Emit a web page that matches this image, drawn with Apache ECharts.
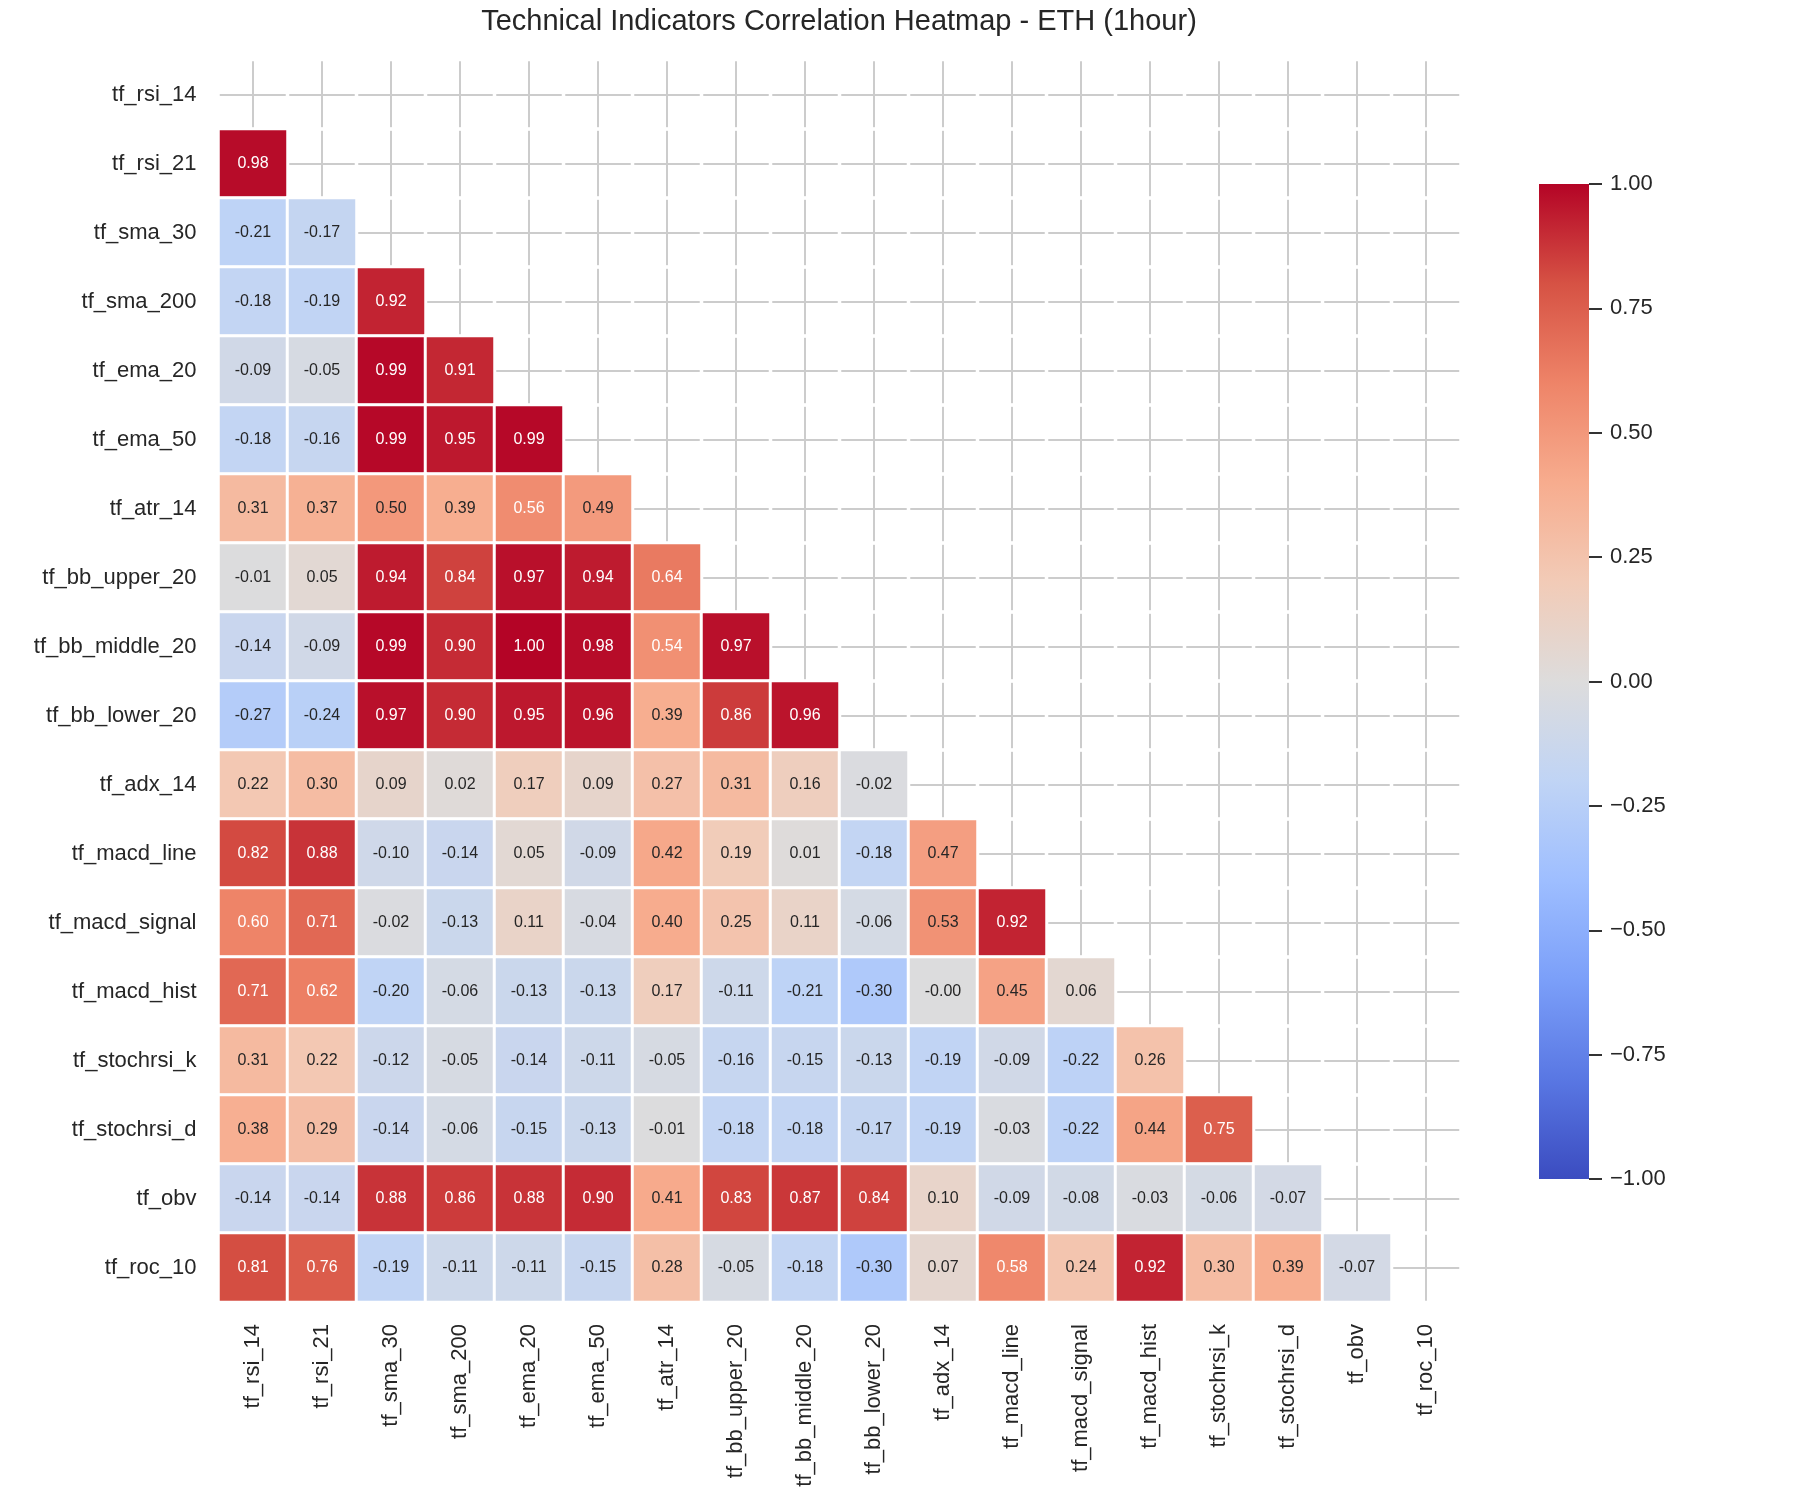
<!DOCTYPE html>
<html>
<head>
<meta charset="utf-8">
<title>Technical Indicators Correlation Heatmap - ETH (1hour)</title>
<script src="https://cdn.jsdelivr.net/npm/echarts@6/dist/echarts.min.js"></script>
<style>
	html, body { margin: 0; padding: 0; background: #fff; }
	#heatmap { width: 1800px; height: 1500px; }
</style>
</head>
<body>
<div id="heatmap"></div>
<script>
var names = ['tf_rsi_14', 'tf_rsi_21', 'tf_sma_30', 'tf_sma_200', 'tf_ema_20', 'tf_ema_50', 'tf_atr_14',
	'tf_bb_upper_20', 'tf_bb_middle_20', 'tf_bb_lower_20', 'tf_adx_14', 'tf_macd_line', 'tf_macd_signal',
	'tf_macd_hist', 'tf_stochrsi_k', 'tf_stochrsi_d', 'tf_obv', 'tf_roc_10'];

// lower triangle only, row i has columns 0..i-1 (diagonal and above are masked)
var corrRows = [
	[],
	[0.98],
	[-0.21, -0.17],
	[-0.18, -0.19, 0.92],
	[-0.09, -0.05, 0.99, 0.91],
	[-0.18, -0.16, 0.99, 0.95, 0.99],
	[0.31, 0.37, 0.50, 0.39, 0.56, 0.49],
	[-0.01, 0.05, 0.94, 0.84, 0.97, 0.94, 0.64],
	[-0.14, -0.09, 0.99, 0.90, 1.00, 0.98, 0.54, 0.97],
	[-0.27, -0.24, 0.97, 0.90, 0.95, 0.96, 0.39, 0.86, 0.96],
	[0.22, 0.30, 0.09, 0.02, 0.17, 0.09, 0.27, 0.31, 0.16, -0.02],
	[0.82, 0.88, -0.10, -0.14, 0.05, -0.09, 0.42, 0.19, 0.01, -0.18, 0.47],
	[0.60, 0.71, -0.02, -0.13, 0.11, -0.04, 0.40, 0.25, 0.11, -0.06, 0.53, 0.92],
	[0.71, 0.62, -0.20, -0.06, -0.13, -0.13, 0.17, -0.11, -0.21, -0.30, -0.004, 0.45, 0.06],
	[0.31, 0.22, -0.12, -0.05, -0.14, -0.11, -0.05, -0.16, -0.15, -0.13, -0.19, -0.09, -0.22, 0.26],
	[0.38, 0.29, -0.14, -0.06, -0.15, -0.13, -0.01, -0.18, -0.18, -0.17, -0.19, -0.03, -0.22, 0.44, 0.75],
	[-0.14, -0.14, 0.88, 0.86, 0.88, 0.90, 0.41, 0.83, 0.87, 0.84, 0.10, -0.09, -0.08, -0.03, -0.06, -0.07],
	[0.81, 0.76, -0.19, -0.11, -0.11, -0.15, 0.28, -0.05, -0.18, -0.30, 0.07, 0.58, 0.24, 0.92, 0.30, 0.39, -0.07]
];

var coolwarm = ['#3b4cc0', '#5977e3', '#7b9ff9', '#9ebeff', '#c0d4f5', '#dddcdc',
	'#f2cbb7', '#f7ac8e', '#ee8468', '#d65244', '#b40426'];

var fontName = 'Liberation Sans, Arial, sans-serif';
var textDark = '#262626';

function heatmapChart() {
	var myChart = echarts.init(document.getElementById('heatmap'));

	var cells = [];
	corrRows.forEach(function (row, i) {
		row.forEach(function (v, j) {
			cells.push({
				value: [j, i, v],
				label: { color: v > 0.535 ? '#ffffff' : textDark } //深色格子用白字
			});
		});
	});

	// masked cells: only their white borders are drawn over the grid lines
	var masked = [];
	names.forEach(function (n, i) {
		for (var j = i; j < names.length; j++) {
			masked.push([j, i, 0]);
		}
	});

	// colorbar gradient, top = 1.00
	var barStops = coolwarm.map(function (c, k) {
		return { offset: 1 - k / (coolwarm.length - 1), color: c };
	});

	var option = {
		backgroundColor: '#ffffff',
		textStyle: { fontFamily: fontName },
		animation: false,
		title: {
			text: 'Technical Indicators Correlation Heatmap - ETH (1hour)',
			left: 839,
			top: 7,
			padding: 0,
			textAlign: 'center',
			textStyle: {
				fontSize: 29,
				fontWeight: 'normal',
				color: textDark,
				fontFamily: fontName
			}
		},
		grid: [{
			left: 218.5,
			top: 60,
			width: 1242,
			height: 1242
		}, {
			left: 1539,
			top: 184,
			width: 50,
			height: 995,
			show: true,
			borderWidth: 0,
			backgroundColor: new echarts.graphic.LinearGradient(0, 0, 0, 1, barStops)
		}], //第二个grid当作色条
		xAxis: [{
			type: 'category',
			data: names,
			gridIndex: 0,
			axisLine: { show: false },
			axisTick: { show: false },
			axisLabel: {
				rotate: 90,
				interval: 0,
				margin: 22,
				fontSize: 22,
				color: textDark,
				fontFamily: fontName
			},
			splitLine: {
				show: true,
				interval: 0,
				alignWithLabel: true,
				lineStyle: { color: '#cccccc', width: 2 }
			}
		}, {
			type: 'value',
			gridIndex: 1,
			min: 0,
			max: 1,
			show: false
		}],
		yAxis: [{
			type: 'category',
			data: names,
			inverse: true,
			gridIndex: 0,
			axisLine: { show: false },
			axisTick: { show: false },
			axisLabel: {
				interval: 0,
				margin: 22,
				fontSize: 22,
				color: textDark,
				fontFamily: fontName
			},
			splitLine: {
				show: true,
				interval: 0,
				alignWithLabel: true,
				lineStyle: { color: '#cccccc', width: 2 }
			}
		}, {
			type: 'value',
			gridIndex: 1,
			position: 'right',
			min: -1,
			max: 1,
			interval: 0.25,
			axisLine: { show: false, onZero: false },
			axisTick: {
				show: true,
				inside: false,
				length: 13,
				lineStyle: { color: '#333333', width: 2 }
			},
			splitLine: { show: false },
			axisLabel: {
				margin: 21,
				fontSize: 22,
				color: textDark,
				fontFamily: fontName,
				formatter: function (v) {
					return v.toFixed(2).replace('-', '\u2212');
				}
			}
		}],
		visualMap: {
			type: 'continuous',
			show: false,
			seriesIndex: 1,
			min: -1,
			max: 1,
			inRange: { color: coolwarm }
		},
		series: [{
			name: 'mask',
			type: 'heatmap',
			xAxisIndex: 0,
			yAxisIndex: 0,
			data: masked,
			silent: true,
			label: { show: false },
			itemStyle: { color: 'rgba(255,255,255,0)', borderColor: '#ffffff', borderWidth: 3 },
			emphasis: { disabled: true }
		}, {
			name: 'corr',
			type: 'heatmap',
			xAxisIndex: 0,
			yAxisIndex: 0,
			data: cells,
			label: {
				show: true,
				fontSize: 16,
				fontFamily: fontName,
				formatter: function (p) {
					return p.value[2].toFixed(2);
				}
			},
			itemStyle: { borderColor: '#ffffff', borderWidth: 3 },
			emphasis: { disabled: true }
		}]
	};
	myChart.setOption(option);
}

heatmapChart();
</script>
</body>
</html>
